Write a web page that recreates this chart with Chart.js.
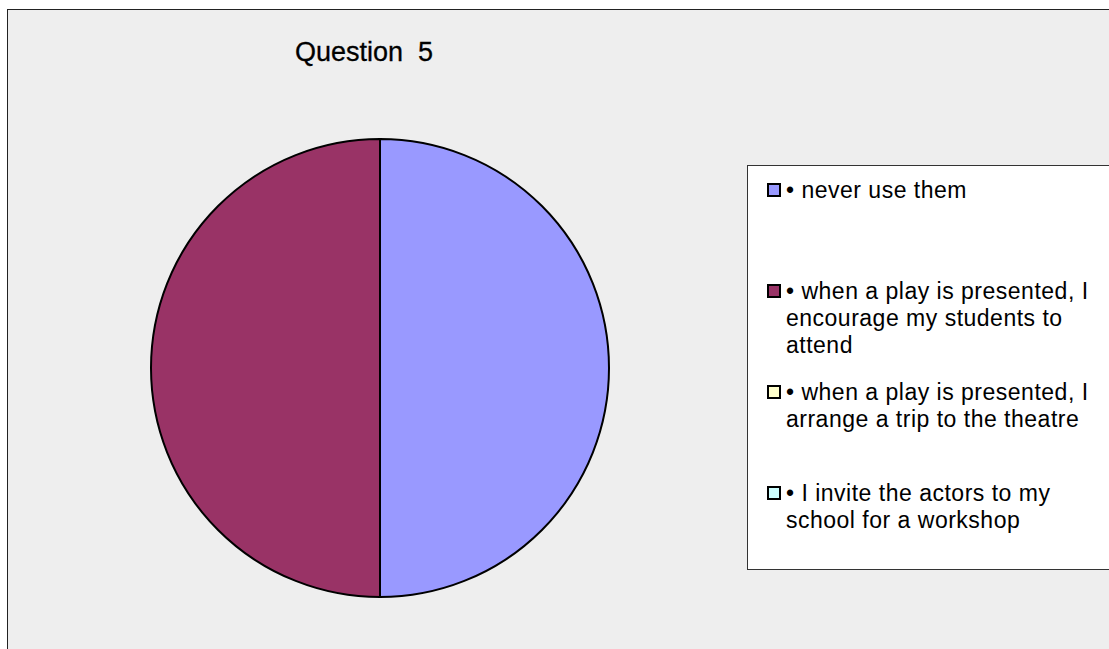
<!DOCTYPE html>
<html>
<head>
<meta charset="utf-8">
<script src="https://cdn.jsdelivr.net/npm/chart.js@4.4.0/dist/chart.umd.min.js"></script>
<style>
  html, body { margin: 0; padding: 0; width: 1109px; height: 649px; overflow: hidden; background: #ffffff; }
  #frame { position: absolute; left: 7px; top: 9px; width: 1120px; height: 660px; background: #eeeeee; border: 1px solid #222222; box-sizing: border-box; }
  #title { position: absolute; left: 295px; top: 34px; font-family: "Liberation Sans", Arial, sans-serif; font-size: 27px; color: #000; white-space: pre; line-height: 36px; -webkit-text-stroke: 0.3px #000; }
  #chartWrap { position: absolute; left: 0; top: 0; width: 1109px; height: 649px; }
  #legend { position: absolute; left: 747px; top: 165px; width: 400px; height: 405px; background: #ffffff; border: 1px solid #333333; box-sizing: border-box; font-family: "Liberation Sans", Arial, sans-serif; font-size: 23px; letter-spacing: 0.5px; color: #000; }
  .item { position: relative; height: 101px; box-sizing: border-box; padding-top: 11px; }
  .sw { position: absolute; left: 19px; top: 17px; width: 10px; height: 10px; border: 2px solid #000; }
  .txt { position: absolute; left: 38px; top: 11px; width: 318px; line-height: 27px; }
</style>
</head>
<body>
<div id="frame"></div>
<div id="title"></div>
<div id="chartWrap"><canvas id="c" width="1109" height="649"></canvas></div>
<div id="legend"></div>
<script>
const chartTitle = "Question  5";
const categories = [
  "• never use them",
  "• when a play is presented, I encourage my students to attend",
  "• when a play is presented, I arrange a trip to the theatre",
  "• I invite the actors to my school for a workshop"
];
const values = [1, 1, 0, 0];
const colors = ["#9999FF", "#993366", "#FFFFCC", "#CCFFFF"];

document.getElementById('title').textContent = chartTitle;

const htmlLegend = {
  id: 'htmlLegend',
  afterUpdate(chart) {
    const box = document.getElementById('legend');
    box.innerHTML = '';
    const items = chart.options.plugins.legend.labels.generateLabels(chart);
    items.forEach(it => {
      const d = document.createElement('div');
      d.className = 'item';
      const s = document.createElement('span');
      s.className = 'sw';
      s.style.background = it.fillStyle;
      const t = document.createElement('div');
      t.className = 'txt';
      t.textContent = it.text;
      d.appendChild(s); d.appendChild(t);
      box.appendChild(d);
    });
  }
};

new Chart(document.getElementById('c'), {
  type: 'pie',
  data: {
    labels: categories,
    datasets: [{
      data: values,
      backgroundColor: colors,
      borderColor: '#000000',
      borderWidth: 2
    }]
  },
  options: {
    responsive: false,
    animation: false,
    events: [],
    layout: { padding: { left: 150, right: 499, top: 138, bottom: 51 } },
    plugins: {
      legend: { display: false },
      title: { display: false },
      tooltip: { enabled: false }
    }
  },
  plugins: [htmlLegend]
});
</script>
</body>
</html>
